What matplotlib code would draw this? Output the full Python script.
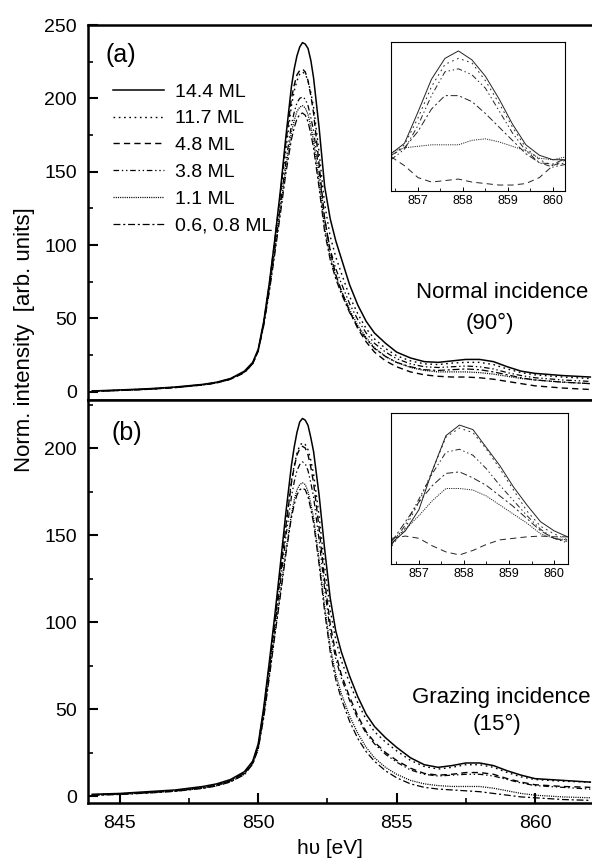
import matplotlib
matplotlib.use("Agg")
import matplotlib.pyplot as plt
from matplotlib.ticker import MultipleLocator

plt.rcParams['font.family'] = ['Liberation Sans', 'DejaVu Sans']
plt.rcParams['lines.scale_dashes'] = False

# ---------------- data ----------------
energy = [844, 845, 846, 847, 848, 848.5, 849, 849.5, 849.8, 850.0, 850.2, 850.4,
          850.6, 850.8, 851.0, 851.2, 851.3, 851.4, 851.5, 851.6, 851.7, 851.8, 851.9, 852.0, 852.2, 852.4,
          852.6, 852.8, 853.0, 853.3, 853.6, 853.9, 854.2, 854.6, 855.0, 855.5,
          856.0, 856.5, 857.0, 857.5, 858.0, 858.5, 859.0, 859.5, 860.0, 861.0, 862.0]

labels = ["14.4 ML", "11.7 ML", "4.8 ML", "3.8 ML", "1.1 ML", "0.6, 0.8 ML"]

# panel (a): normal incidence
a_144 = [0.5, 1.2, 2.0, 3.2, 5.0, 6.5, 9.0, 14, 20, 29, 48, 74, 104, 137, 174, 208, 220, 229, 235, 238, 237, 234, 226, 214, 180, 140,
         118, 103, 91, 73, 59, 48, 40, 33, 27, 23, 20.5, 20, 21, 22, 22, 20.5, 17, 14, 12.5, 11, 10]
a_117 = [0.3, 1.0, 1.8, 3.0, 4.8, 6.3, 8.8, 13.5, 19.5, 28, 47, 72, 101, 132, 165, 195, 205, 212, 216.5, 218, 216.5, 212, 204, 194, 163, 128,
         106, 92, 81, 65, 53, 43, 36, 29.5, 24.5, 21, 19, 18.5, 19.5, 20, 20, 18.5, 15.5, 13, 11.5, 10, 9]
a_48 = [0.2, 0.9, 1.6, 2.8, 4.6, 6.0, 8.5, 13, 19, 28, 47, 73, 103, 135, 170, 200, 209, 216, 219, 220, 218, 212, 202, 190, 155, 118,
        96, 80, 69, 55, 43, 34, 27, 21, 17, 13.5, 11.5, 10.5, 10, 10, 9.5, 8.5, 7, 5.5, 4, 2.5, 1.5]
a_38 = [0.4, 1.0, 1.8, 3.0, 4.8, 6.2, 8.7, 13.5, 19.5, 28, 46, 70, 98, 127, 157, 182, 190.5, 197, 200, 201, 199.5, 195, 187, 178, 150, 118,
        97, 84, 74, 60, 49, 40, 33, 27, 22.5, 19, 17, 16.5, 17, 17.5, 17, 15.5, 13, 11, 9.5, 8, 7]
a_11 = [0.3, 0.9, 1.7, 2.9, 4.7, 6.1, 8.6, 13.3, 19.3, 28, 46, 69, 96, 124, 153, 177, 185, 191, 194, 195, 193.5, 189, 181, 171, 143, 112,
        92, 79, 69, 56, 45, 37, 30, 24, 20, 16.5, 14.5, 13.5, 13.5, 13.5, 13, 12, 10.5, 9, 8, 6.5, 5.5]
a_06 = [0.2, 0.8, 1.6, 2.8, 4.6, 6.0, 8.5, 13, 19, 27.5, 45, 68, 94, 121, 149, 172, 180, 186, 189, 190, 188.5, 184, 176, 166, 139, 109,
        90, 77, 67, 54, 44, 36, 29.5, 24, 20, 17, 15, 14.5, 15, 15.5, 15, 13.5, 11.5, 9.5, 8, 6.5, 5.5]

# panel (b): grazing incidence
b_144 = [1.0, 1.5, 2.5, 3.5, 5.5, 7.0, 9.5, 14, 20, 30, 51, 77, 104, 133, 163, 190, 200.5, 209, 215, 217, 216, 213, 206, 198, 173, 142,
         114, 95, 83, 69, 57, 47, 40, 33.5, 28, 22, 18, 16.5, 17.5, 19, 19, 17.5, 14.5, 12, 10, 9, 8]
b_117 = [0.8, 1.3, 2.2, 3.2, 5.0, 6.5, 9.0, 13.5, 19.5, 29, 50, 75, 101, 128, 156, 181, 190, 197, 201.5, 203, 202, 199, 193, 185, 161, 132,
         107, 90, 78, 65, 53.5, 44, 37, 31, 26, 20.5, 17, 15.5, 16.5, 18, 18, 16.5, 13.5, 11, 9.5, 8.5, 8]
b_48 = [0.7, 1.2, 2.0, 3.0, 4.8, 6.3, 8.8, 13.3, 19.3, 29, 49, 74, 100, 127, 155, 180, 189, 196, 199.5, 201, 200, 196, 189, 180, 154, 124,
        99, 82, 70, 57, 46, 37, 31, 25, 20.5, 16, 13, 12, 12.5, 13.5, 13.5, 12.5, 10, 8, 6.5, 5.5, 5]
b_38 = [0.7, 1.2, 2.0, 3.0, 4.8, 6.2, 8.7, 13, 19, 28, 48, 72, 97, 123, 149, 172, 180.5, 187, 190.5, 192, 191, 187, 180, 172, 147, 119,
        95, 79, 68, 55, 44.5, 36, 30, 24, 19.5, 15, 12.5, 11.5, 12, 12.5, 12.5, 11.5, 9.5, 7.5, 6, 5, 4]
b_11 = [0.5, 1.0, 1.8, 2.8, 4.5, 5.9, 8.3, 12.5, 18.5, 27, 46, 69, 93, 117, 141, 162, 170, 176, 179, 180, 179, 175, 168, 160, 136, 109,
        86, 70, 59, 46, 36, 28, 22, 16.5, 12.5, 9, 7, 6, 5.5, 5.5, 5.5, 4.5, 3, 1.5, 0.5, -0.5, -1]
b_06 = [0.4, 0.9, 1.7, 2.7, 4.4, 5.8, 8.1, 12.3, 18.3, 27, 45, 68, 92, 115, 139, 160, 167.5, 173, 176, 177, 176, 172, 165, 157, 133, 106,
        83, 67, 56, 43, 33, 25.5, 20, 14.5, 10.5, 7, 5, 4, 3.5, 3, 2.5, 1.5, 0.5, -0.5, -1, -2, -2.5]

# insets (arb. units, 0-100 of inset height)
inset_energy = [856.4, 856.7, 857.0, 857.3, 857.6, 857.9, 858.2, 858.5, 858.8, 859.1, 859.4, 859.7, 860.0, 860.3]
ia_144 = [25, 32, 53, 75, 89, 94, 88, 77, 62, 45, 31, 24, 21, 21]
ia_117 = [23, 31, 49, 70, 85, 89, 86, 74, 59, 43, 29, 21, 17, 19]
ia_48 = [23, 17, 9, 6, 7, 8, 6, 5, 4, 4, 5, 9, 17, 21]
ia_38 = [21, 28, 44, 64, 80, 82, 78, 69, 54, 39, 27, 19, 16, 18]
ia_11 = [26, 29, 30, 31, 31, 31, 34, 35, 33, 30, 27, 22, 21, 23]
ia_06 = [24, 29, 40, 55, 64, 64, 60, 52, 43, 34, 25, 19, 18, 22]

ib_144 = [14, 22, 36, 62, 85, 92, 89, 77, 65, 51, 39, 28, 22, 18]
ib_117 = [12, 24, 41, 62, 84, 90, 87, 76, 63, 49, 35, 25, 20, 16]
ib_48 = [17, 18.5, 17, 12, 8, 6, 9, 13, 16, 17, 18, 18.5, 18, 18]
ib_38 = [13, 26, 43, 60, 74, 76, 72, 63, 52, 42, 32, 23, 17, 14]
ib_11 = [16, 23, 32, 42, 50, 50, 49, 45, 39, 33, 27, 20, 17, 16]
ib_06 = [15, 28, 41, 52, 60, 61, 57, 52, 45, 38, 30, 22, 17, 15]

styles = ['-', (0, (1.2, 2.6)), (0, (4.5, 3)), (0, (4, 2, 1, 2, 1, 2)), (0, (0.8, 0.8)), (0, (5, 2, 1.5, 2))]
widths = [1.1, 1.0, 1.0, 0.9, 0.9, 0.9]

panel_a = [a_144, a_117, a_48, a_38, a_11, a_06]
panel_b = [b_144, b_117, b_48, b_38, b_11, b_06]
inset_a = [ia_144, ia_117, ia_48, ia_38, ia_11, ia_06]
inset_b = [ib_144, ib_117, ib_48, ib_38, ib_11, ib_06]

# ---------------- figure ----------------
W, H = 592, 859
fig = plt.figure(figsize=(W / 100, H / 100), dpi=100)

def fx(px):
    return px / W

def fy(py):
    return 1 - py / H

left = fx(88)
axA = fig.add_axes([left, fy(400), 1.0 - left, (400 - 25) / H])
axB = fig.add_axes([left, fy(803), 1.0 - left, (803 - 400) / H])

for ax, data in ((axA, panel_a), (axB, panel_b)):
    for y, ls, lw, lab in zip(data, styles, widths, labels):
        ax.plot(energy, y, color='black', linestyle=ls, linewidth=lw, label=lab)
    ax.set_xlim(843.85, 862.06)
    for s in ax.spines.values():
        s.set_linewidth(1.8)
    ax.spines['right'].set_visible(False)
    ax.yaxis.set_major_locator(MultipleLocator(50))
    ax.yaxis.set_minor_locator(MultipleLocator(25))
    ax.xaxis.set_major_locator(MultipleLocator(5))
    ax.xaxis.set_minor_locator(MultipleLocator(2.5))
    ax.tick_params(axis='both', which='major', direction='in', length=7, width=1.5,
                   labelsize=14, pad=8)
    ax.tick_params(axis='both', which='minor', direction='in', length=3.5, width=1.2)
    ax.tick_params(right=False, top=False, which='both')

axA.set_ylim(-5.66, 250)
axB.set_ylim(-4.0, 227.6)
axA.tick_params(axis='x', which='both', bottom=False, labelbottom=False)
axB.tick_params(axis='x', which='major', pad=9)

# legend
leg = axA.legend(loc='upper left', bbox_to_anchor=((113 - 88) / (W - 88), (400 - 83) / 375),
                 frameon=False, fontsize=14, handlelength=2.63, handletextpad=0.57,
                 labelspacing=0.47, borderpad=0, borderaxespad=0)

# texts
fig.text(fx(121), fy(55), "(a)", fontsize=18, ha='center', va='center')
fig.text(fx(127), fy(433), "(b)", fontsize=18, ha='center', va='center')
fig.text(fx(502), fy(293), "Normal incidence", fontsize=16, ha='center', va='center')
fig.text(fx(490), fy(323), "(90°)", fontsize=16, ha='center', va='center')
fig.text(fx(501), fy(697), "Grazing incidence", fontsize=16, ha='center', va='center')
fig.text(fx(497), fy(724), "(15°)", fontsize=16, ha='center', va='center')
fig.text(fx(25), fy(340), "Norm. intensity  [arb. units]", fontsize=16, rotation=90,
         ha='center', va='center')
fig.text(fx(330), fy(848), "hυ [eV]", fontsize=15, ha='center', va='center')

# insets
def make_inset(rect, xlim, data):
    ins = fig.add_axes(rect)
    for y, ls, lab in zip(data, styles, labels):
        ins.plot(inset_energy, y, color='#222222', linestyle=ls, linewidth=0.7)
    ins.set_xlim(*xlim)
    ins.set_ylim(0, 100)
    ins.set_yticks([])
    ins.xaxis.set_major_locator(MultipleLocator(1))
    ins.xaxis.set_minor_locator(MultipleLocator(0.5))
    ins.tick_params(axis='x', which='major', direction='in', length=3, width=0.7,
                    labelsize=9, pad=3)
    ins.tick_params(axis='x', which='minor', direction='in', length=2, width=0.6)
    for s in ins.spines.values():
        s.set_linewidth(0.8)
    return ins

make_inset([fx(391), fy(191), 174 / W, 149 / H], (856.4, 860.27), inset_a)
make_inset([fx(391), fy(564), 177 / W, 151 / H], (856.38, 860.31), inset_b)

fig.savefig("out.png", dpi=100)
